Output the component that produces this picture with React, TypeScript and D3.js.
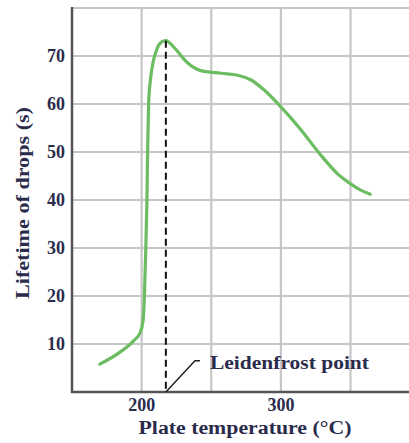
import React, { useEffect, useRef } from "react";
import * as d3 from "d3";

// plate temperature (°C) and drop lifetime (s)
const temps = [170, 184, 194, 199, 201, 202, 203, 203.8, 204.3, 205, 206.3, 208.3, 211, 214.2, 217.4, 222.9, 232.5, 242, 257, 269, 278.6, 288, 300, 314.5, 327.7, 340.9, 349.8, 357, 364.2];
const lifetimes = [5.8, 8.2, 10.6, 12.4, 14.8, 20, 30, 40, 50, 60, 65, 68.8, 71.5, 72.9, 73.2, 71.9, 68.7, 67, 66.4, 66, 65, 62.9, 59.4, 54.6, 49.7, 45.4, 43.4, 42.1, 41.2];

const xTicks = [200, 300];
const xGrid = [200, 250, 300, 350];
const yTicks = [10, 20, 30, 40, 50, 60, 70];
const yGrid = [10, 20, 30, 40, 50, 60, 70, 80];

const leidenfrostTemp = 217.4;
const leidenfrostLife = 73.2;
// leader line for the annotation: [temp, lifetime]
const leader = [[217.4, 0], [238.3, 6.5], [241.9, 6.5]];

const ink = "#2b2c4c";
const width = 409;
const height = 443;
const x = d3.scaleLinear().domain([150, 392]).range([72, 409]);
const y = d3.scaleLinear().domain([0, 80]).range([392, 8]);

function Chart() {
  const ref = useRef<SVGGElement>(null);

  useEffect(() => {
    const g = d3.select(ref.current);
    g.selectAll("*").remove();

    const font = "'Liberation Serif', 'Times New Roman', serif";

    // axes lines
    g.append("line")
      .attr("x1", x(150)).attr("x2", x(150))
      .attr("y1", y(80) - 1).attr("y2", y(0) + 1)
      .attr("stroke", "#555").attr("stroke-width", 2.5);
    g.append("line")
      .attr("x1", x(150) - 1).attr("x2", width)
      .attr("y1", y(0)).attr("y2", y(0))
      .attr("stroke", "#555").attr("stroke-width", 2.5);

    // tick labels
    g.append("g").selectAll("text").data(yTicks).enter().append("text")
      .attr("x", 65).attr("y", d => y(d))
      .attr("dy", "0.35em")
      .attr("text-anchor", "end")
      .attr("font-family", font).attr("font-size", 18).attr("font-weight", "bold")
      .attr("fill", ink)
      .text(d => d);
    g.append("g").selectAll("text").data(xTicks).enter().append("text")
      .attr("x", d => x(d)).attr("y", 411)
      .attr("text-anchor", "middle")
      .attr("font-family", font).attr("font-size", 18).attr("font-weight", "bold")
      .attr("fill", ink)
      .text(d => d);

    // axis titles
    g.append("text")
      .attr("x", 245).attr("y", 434)
      .attr("text-anchor", "middle")
      .attr("font-family", font).attr("font-size", 18).attr("font-weight", "bold")
      .attr("fill", ink)
      .attr("textLength", 213).attr("lengthAdjust", "spacingAndGlyphs")
      .text("Plate temperature (°C)");
    g.append("text")
      .attr("transform", `translate(29, 203) rotate(-90)`)
      .attr("text-anchor", "middle")
      .attr("font-family", font).attr("font-size", 18).attr("font-weight", "bold")
      .attr("fill", ink)
      .attr("textLength", 192).attr("lengthAdjust", "spacingAndGlyphs")
      .text("Lifetime of drops (s)");

    // curve
    const pts = temps.map((t, i) => [t, lifetimes[i]] as [number, number]);
    const line = d3.line<[number, number]>()
      .x(d => x(d[0])).y(d => y(d[1]))
      .curve(d3.curveMonotoneX);
    g.append("path")
      .attr("d", line(pts))
      .attr("fill", "none")
      .attr("stroke", "#6cbd62")
      .attr("stroke-width", 3.2)
      .attr("stroke-linecap", "round");

    // Leidenfrost dashed marker
    g.append("line")
      .attr("x1", x(leidenfrostTemp)).attr("x2", x(leidenfrostTemp))
      .attr("y1", y(leidenfrostLife)).attr("y2", y(0))
      .attr("stroke", "#111").attr("stroke-width", 2)
      .attr("stroke-dasharray", "7,4");

    const leaderLine = d3.line<number[]>().x(d => x(d[0])).y(d => y(d[1]));
    g.append("path")
      .attr("d", leaderLine(leader))
      .attr("fill", "none")
      .attr("stroke", "#222").attr("stroke-width", 1.5);

    g.append("text")
      .attr("x", x(leader[2][0]) + 10).attr("y", 369)
      .attr("font-family", font).attr("font-size", 18).attr("font-weight", "bold")
      .attr("fill", ink)
      .attr("textLength", 159).attr("lengthAdjust", "spacingAndGlyphs")
      .text("Leidenfrost point");
  }, []);

  return (
    <svg width={width} height={height} style={{ position: "absolute", left: 0, top: 0, background: "#fff" }}>
      <g className="grid">
        {yGrid.map(d => (
          <line key={"h" + d} x1={x(150)} x2={width} y1={y(d)} y2={y(d)} stroke="#c6c6c6" strokeWidth={2.2} />
        ))}
        {xGrid.map(d => (
          <line key={"v" + d} x1={x(d)} x2={x(d)} y1={y(80)} y2={y(0)} stroke="#c6c6c6" strokeWidth={2.2} />
        ))}
      </g>
      <g ref={ref} />
    </svg>
  );
}

export default function App() {
  return <Chart />;
}
